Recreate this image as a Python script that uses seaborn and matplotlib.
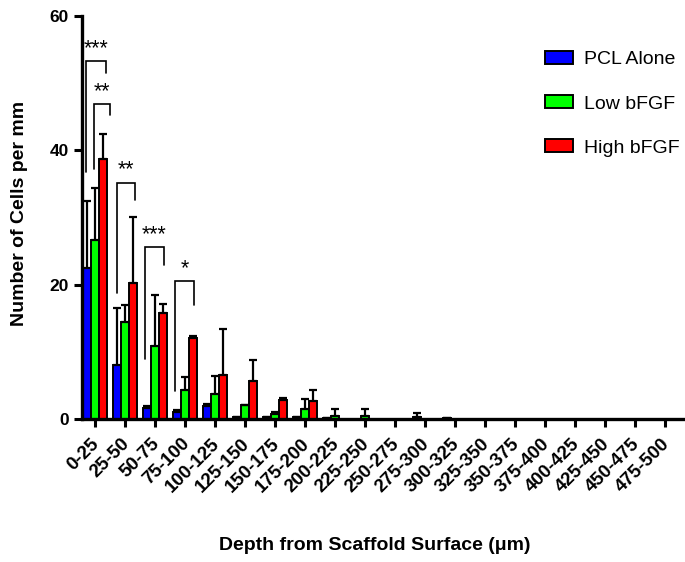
import numpy as np
import pandas as pd
import matplotlib
matplotlib.use("Agg")
import matplotlib.pyplot as plt
from matplotlib import font_manager as fm
from matplotlib.transforms import ScaledTranslation
import seaborn as sns

categories = ["0-25", "25-50", "50-75", "75-100", "100-125", "125-150", "150-175",
              "175-200", "200-225", "225-250", "250-275", "275-300", "300-325",
              "325-350", "350-375", "375-400", "400-425", "425-450", "450-475", "475-500"]
groups = ["PCL Alone", "Low bFGF", "High bFGF"]
pcl_mean = [22.5, 8.0, 1.6, 1.1, 2.0, 0.3, 0.3, 0.3, 0.2, 0, 0, 0.3, 0.2, 0, 0, 0, 0, 0, 0, 0]
pcl_err = [9.9, 8.5, 0.3, 0.3, 0.3, 0, 0, 0, 0, 0, 0, 0.6, 0, 0, 0, 0, 0, 0, 0, 0]
low_mean = [26.6, 14.5, 10.9, 4.3, 3.7, 2.1, 0.8, 1.5, 0.5, 0.5, 0, 0, 0, 0, 0, 0, 0, 0, 0, 0]
low_err = [7.8, 2.5, 7.6, 1.9, 2.7, 0, 0.2, 1.5, 1.0, 1.0, 0, 0, 0, 0, 0, 0, 0, 0, 0, 0]
high_mean = [38.7, 20.2, 15.8, 12.1, 6.5, 5.7, 2.8, 2.7, 0, 0, 0, 0, 0, 0, 0, 0, 0, 0, 0, 0]
high_err = [3.7, 9.9, 1.3, 0.3, 6.9, 3.1, 0.3, 1.6, 0, 0, 0, 0, 0, 0, 0, 0, 0, 0, 0, 0]
colors = ["#0000FF", "#00FF00", "#FF0000"]
sig_labels = ["***", "**", "**", "***", "*"]
sig_groups = [0, 0, 1, 2, 3]
sig_top = [53.3, 46.9, 35.2, 25.6, 20.5]
sig_left_end = [36.8, 37.3, 18.7, 9.0, 4.1]
sig_right_end = [51.5, 45.2, 32.6, 22.9, 17.0]

means = [pcl_mean, low_mean, high_mean]
errs = [pcl_err, low_err, high_err]

df = pd.DataFrame({
    "Depth": np.tile(categories, 3),
    "Group": np.repeat(groups, len(categories)),
    "Value": np.concatenate(means),
})

sns.set_style("ticks")
plt.rcParams["font.family"] = ["Liberation Sans", "DejaVu Sans"]
plt.rcParams["text.color"] = "black"
plt.rcParams["axes.labelcolor"] = "black"


def find_font(bold, size):
    for f in fm.fontManager.ttflist:
        p = f.fname.lower()
        if f.name == "Liberation Sans" and "narrow" not in p and "italic" not in p \
                and "oblique" not in p:
            if bold and ("bold" in p):
                return fm.FontProperties(fname=f.fname, size=size)
            if not bold and "bold" not in p:
                return fm.FontProperties(fname=f.fname, size=size)
    return fm.FontProperties(family="Liberation Sans",
                             weight="bold" if bold else "normal", size=size)


fp_tick_x = find_font(True, 13.5)
fp_tick_y = find_font(True, 12.5)
fp_label = find_font(True, 14)
fp_leg = find_font(False, 14)
fp_star = find_font(False, 15.5)

fig = plt.figure(figsize=(6.85, 5.62), dpi=100)
ax = fig.add_axes([0.1197, 0.2544, 0.877, 0.717])

sns.barplot(data=df, x="Depth", y="Value", hue="Group", order=categories,
            hue_order=groups, palette=dict(zip(groups, colors)), errorbar=None,
            width=0.8, edgecolor="black", linewidth=1.4, saturation=1, ax=ax)

for cont, m, e in zip(ax.containers, means, errs):
    xs = np.array([b.get_x() + b.get_width() / 2 for b in cont])
    m = np.array(m, dtype=float)
    e = np.array(e, dtype=float)
    mask = m > 0
    ax.errorbar(xs[mask], m[mask], yerr=[np.zeros(mask.sum()), e[mask]],
                fmt="none", ecolor="black", elinewidth=1.6, capsize=2.8,
                capthick=1.6, zorder=1)

offs = {0: [(-0.28, 0.38), (-0.03, 0.5)], 1: [(-0.27, 0.33)], 2: [(-0.33, 0.3)], 3: [(-0.33, 0.3)]}
used = {}
for lab, g, yt, yl, yr in zip(sig_labels, sig_groups, sig_top, sig_left_end, sig_right_end):
    k = used.get(g, 0)
    used[g] = k + 1
    xl, xr = g + offs[g][k][0], g + offs[g][k][1]
    ax.plot([xl, xl, xr, xr], [yl, yt, yt, yr], color="black", lw=1.2,
            solid_joinstyle="miter", clip_on=False)
    ax.text((xl + xr) / 2, yt + 0.3, lab, ha="center", va="bottom",
            color="black", fontproperties=fp_star)

ax.set_xlim(-0.43, 19.6)
ax.set_ylim(0, 60)
ax.set_yticks([0, 20, 40, 60])
ax.set_xlabel("")
ax.set_ylabel("")
sns.despine(ax=ax)
for s in ["left", "bottom"]:
    ax.spines[s].set_linewidth(2.4)
    ax.spines[s].set_color("black")
ax.tick_params(axis="both", length=6, width=2.2, direction="out", colors="black")
ax.tick_params(axis="x", pad=4)
ax.set_xticks(range(len(categories)))
ax.set_xticklabels(categories, rotation=45, ha="right", rotation_mode="anchor")
shift = ScaledTranslation(-4 / 100, -2 / 100, fig.dpi_scale_trans)
for t in ax.get_xticklabels():
    t.set_fontproperties(fp_tick_x)
    t.set_color("black")
    t.set_transform(t.get_transform() + shift)
for t in ax.get_yticklabels():
    t.set_fontproperties(fp_tick_y)
    t.set_color("black")

fig.text(375 / 685, 1 - 545 / 562, "Depth from Scaffold Surface (μm)", ha="center",
         va="center", color="black", fontproperties=fp_label)
fig.text(20 / 685, 1 - 213 / 562, "Number of Cells per mm", ha="center", va="center",
         rotation=90, color="black", fontproperties=fp_label)

leg = ax.legend(loc="upper left", bbox_to_anchor=(545 / 685, 1 - 51 / 562),
                bbox_transform=fig.transFigure, frameon=False,
                prop=fp_leg, labelspacing=1.37, handlelength=1.45,
                handleheight=0.67, handletextpad=0.55, borderpad=0, borderaxespad=0)
for txt in leg.get_texts():
    txt.set_color("black")
for h in leg.legend_handles:
    h.set_edgecolor("black")
    h.set_linewidth(1.4)

fig.savefig("out.png", dpi=100)
